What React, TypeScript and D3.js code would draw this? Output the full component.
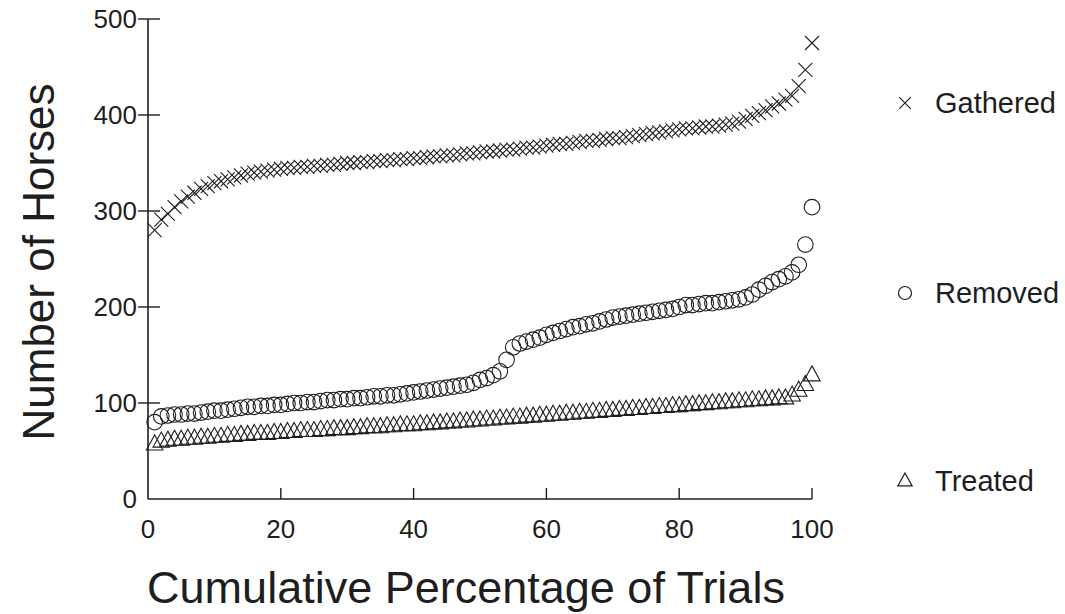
import React, { useEffect, useRef } from "react";
import * as d3 from "d3";

const trials = d3.range(1, 101);

const gathered = [
  280, 291, 297, 304, 310, 315, 319, 323, 326, 329,
  331, 333, 335, 337, 339, 340, 341, 342, 343, 344,
  345, 345, 346, 346, 347, 347, 348, 348, 349, 350,
  350, 351, 351, 352, 352, 353, 353, 354, 354, 355,
  355, 356, 357, 357, 358, 358, 359, 360, 360, 361,
  362, 362, 363, 364, 364, 365, 366, 366, 367, 368,
  369, 370, 370, 371, 372, 373, 373, 374, 375, 376,
  376, 377, 378, 379, 380, 381, 382, 383, 384, 385,
  386, 386, 387, 388, 388, 389, 390, 391, 393, 396,
  399, 402, 405, 409, 412, 416, 420, 430, 447, 475,
];

const removed = [
  80, 86, 87, 88, 88, 89, 89, 90, 91, 92,
  92, 93, 94, 95, 96, 96, 97, 97, 98, 98,
  99, 100, 100, 101, 101, 102, 103, 103, 104, 104,
  105, 105, 106, 107, 107, 108, 108, 109, 110, 111,
  112, 113, 114, 115, 116, 117, 118, 119, 121, 124,
  126, 129, 133, 145, 158, 162, 164, 166, 168, 171,
  173, 175, 177, 179, 180, 182, 183, 185, 187, 189,
  190, 191, 192, 193, 194, 195, 196, 197, 198, 200,
  202, 202, 203, 204, 204, 205, 206, 207, 208, 210,
  213, 218, 222, 226, 229, 232, 236, 244, 265, 304,
];

const treated = [
  57, 60, 61, 62, 62, 63, 63, 64, 64, 65,
  65, 66, 66, 67, 67, 68, 68, 68, 69, 69,
  70, 70, 71, 71, 71, 72, 72, 73, 73, 73,
  74, 74, 75, 75, 75, 76, 76, 77, 77, 77,
  78, 78, 79, 79, 80, 80, 81, 81, 82, 82,
  83, 83, 84, 84, 85, 85, 86, 86, 87, 87,
  88, 88, 89, 89, 90, 90, 91, 91, 92, 92,
  93, 93, 94, 94, 95, 95, 96, 96, 97, 97,
  98, 98, 99, 99, 100, 100, 101, 101, 102, 102,
  103, 103, 104, 104, 105, 105, 108, 113, 119, 129,
];

const xTicks = [0, 20, 40, 60, 80, 100];
const yTicks = [0, 100, 200, 300, 400, 500];
const legendLabels = ["Gathered", "Removed", "Treated"];

const INK = "#1e1e1e";
const FONT = "'Liberation Sans', Arial, Helvetica, sans-serif";

const App = () => {
  const ref = useRef<SVGSVGElement>(null);

  useEffect(() => {
    const svg = d3.select(ref.current);
    svg.selectAll("*").remove();

    const width = 1065;
    const height = 614;
    svg.attr("width", width).attr("height", height);

    const x = d3.scaleLinear().domain([0, 100]).range([148, 812]);
    const y = d3.scaleLinear().domain([0, 500]).range([499, 19]);

    const g = svg.append("g");

    // axes
    g.append("line")
      .attr("x1", x(0)).attr("x2", x(0))
      .attr("y1", y(0)).attr("y2", y(500))
      .attr("stroke", INK).attr("stroke-width", 1.6);
    g.append("line")
      .attr("x1", x(0)).attr("x2", x(100))
      .attr("y1", y(0)).attr("y2", y(0))
      .attr("stroke", INK).attr("stroke-width", 1.6);

    g.selectAll(".ytick")
      .data(yTicks.filter((d) => d > 0))
      .enter()
      .append("line")
      .attr("x1", x(0) - 10).attr("x2", x(0) + 12)
      .attr("y1", (d) => y(d)).attr("y2", (d) => y(d))
      .attr("stroke", INK).attr("stroke-width", 1.4);

    g.selectAll(".ylab")
      .data(yTicks)
      .enter()
      .append("text")
      .attr("x", x(0) - 11)
      .attr("y", (d) => y(d) + 9)
      .attr("text-anchor", "end")
      .attr("font-family", FONT)
      .attr("font-size", 26)
      .attr("fill", INK)
      .text((d) => d);

    g.selectAll(".xtick")
      .data(xTicks.filter((d) => d > 0))
      .enter()
      .append("line")
      .attr("x1", (d) => x(d)).attr("x2", (d) => x(d))
      .attr("y1", y(0)).attr("y2", y(0) - 11)
      .attr("stroke", INK).attr("stroke-width", 1.4);

    g.selectAll(".xlab")
      .data(xTicks)
      .enter()
      .append("text")
      .attr("x", (d) => x(d))
      .attr("y", 538)
      .attr("text-anchor", "middle")
      .attr("font-family", FONT)
      .attr("font-size", 26)
      .attr("fill", INK)
      .text((d) => d);

    g.append("text")
      .attr("x", 466)
      .attr("y", 603)
      .attr("text-anchor", "middle")
      .attr("font-family", FONT)
      .attr("font-size", 45)
      .attr("fill", INK)
      .text("Cumulative Percentage of Trials");

    g.append("text")
      .attr("transform", "translate(54,262) rotate(-90)")
      .attr("text-anchor", "middle")
      .attr("font-family", FONT)
      .attr("font-size", 44)
      .attr("fill", INK)
      .text("Number of Horses");

    // markers
    const cross = d3.symbol().type(d3.symbolTimes).size(130);
    const tri = (s: number) => `M0,${-s * 0.62}L${s * 0.55},${s * 0.38}L${-s * 0.55},${s * 0.38}Z`;

    g.append("g")
      .selectAll("path")
      .data(trials)
      .enter()
      .append("path")
      .attr("transform", (d, i) => `translate(${x(d)},${y(gathered[i])})`)
      .attr("d", cross)
      .attr("fill", "none")
      .attr("stroke", INK)
      .attr("stroke-width", 1.1);

    g.append("g")
      .selectAll("circle")
      .data(trials)
      .enter()
      .append("circle")
      .attr("cx", (d) => x(d))
      .attr("cy", (d, i) => y(removed[i]))
      .attr("r", 7.8)
      .attr("fill", "none")
      .attr("stroke", INK)
      .attr("stroke-width", 1.1);

    g.append("g")
      .selectAll("path")
      .data(trials)
      .enter()
      .append("path")
      .attr("transform", (d, i) => `translate(${x(d)},${y(treated[i])})`)
      .attr("d", tri(15))
      .attr("fill", "none")
      .attr("stroke", INK)
      .attr("stroke-width", 1.1);

    // legend
    const lg = g.append("g").attr("transform", "translate(905,0)");
    const rowY = [103, 293, 481];
    lg.append("path")
      .attr("transform", `translate(0,${rowY[0]})`)
      .attr("d", d3.symbol().type(d3.symbolTimes).size(90)())
      .attr("fill", "none").attr("stroke", INK).attr("stroke-width", 1.2);
    lg.append("circle")
      .attr("cx", 0).attr("cy", rowY[1]).attr("r", 6.5)
      .attr("fill", "none").attr("stroke", INK).attr("stroke-width", 1.2);
    lg.append("path")
      .attr("transform", `translate(0,${rowY[2]})`)
      .attr("d", tri(13))
      .attr("fill", "none").attr("stroke", INK).attr("stroke-width", 1.2);

    lg.selectAll("text")
      .data(legendLabels)
      .enter()
      .append("text")
      .attr("x", 30)
      .attr("y", (d, i) => rowY[i] + 10)
      .attr("font-family", FONT)
      .attr("font-size", 29)
      .attr("fill", INK)
      .text((d) => d);
  }, []);

  return (
    <div style={{ position: "absolute", left: 0, top: 0, background: "#fff" }}>
      <svg ref={ref}></svg>
    </div>
  );
};

export default App;
